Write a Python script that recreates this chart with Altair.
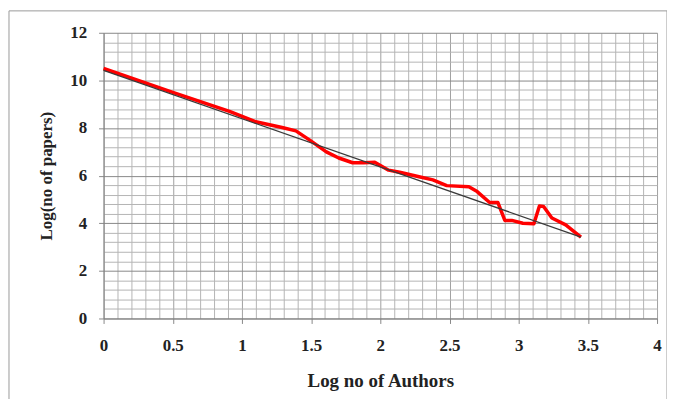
import altair as alt
import pandas as pd

# Red data series: log(no of authors) vs log(no of papers)
log_authors = [0.0, 0.5, 0.91, 1.10, 1.29, 1.39, 1.49, 1.61, 1.70, 1.80, 1.88, 1.96, 2.06,
               2.14, 2.28, 2.38, 2.48, 2.64, 2.70, 2.79, 2.85, 2.90, 2.95, 3.03, 3.11,
               3.15, 3.18, 3.24, 3.34, 3.45]
log_papers = [10.5, 9.5, 8.70, 8.26, 8.02, 7.88, 7.49, 7.00, 6.74, 6.54, 6.54, 6.56, 6.23,
              6.14, 5.95, 5.82, 5.58, 5.53, 5.33, 4.87, 4.87, 4.12, 4.12, 4.00, 3.98,
              4.72, 4.70, 4.22, 3.93, 3.42]

# Linear trend line endpoints
trend_x = [0.0, 3.45]
trend_y = [10.42, 3.42]

x_ticks = [round(i * 0.1, 1) for i in range(41)]
y_ticks = [round(i * 0.4, 1) for i in range(31)]

df = pd.DataFrame({"x": log_authors, "y": log_papers})
tdf = pd.DataFrame({"x": trend_x, "y": trend_y})

FONT = "Liberation Serif"

x_enc = alt.X("x:Q", scale=alt.Scale(domain=[0, 4], nice=False),
              axis=alt.Axis(values=x_ticks, tickCount=100, format="~g", title="Log no of Authors",
                            labelExpr="round(datum.value*10) % 5 === 0 ? datum.label : ''",
                            gridColor=alt.condition("round(datum.value*10) % 5 === 0", alt.value("#a0a0a0"), alt.value("#b4b4b4")),
                            tickColor=alt.condition("round(datum.value*10) % 5 === 0", alt.value("#888888"), alt.value("transparent")),
                            tickSize=5, labelPadding=14, titlePadding=18, titleFontSize=19,
                            labelFlush=False, labelOverlap=False))
y_enc = alt.Y("y:Q", scale=alt.Scale(domain=[0, 12], nice=False),
              axis=alt.Axis(values=y_ticks, tickCount=100, format="~g", title="Log(no of papers)",
                            labelExpr="round(datum.value*10) % 20 === 0 ? datum.label : ''",
                            gridColor=alt.condition("round(datum.value*10) % 20 === 0", alt.value("#888888"), alt.value("#b4b4b4")),
                            tickColor=alt.condition("round(datum.value*10) % 20 === 0", alt.value("#888888"), alt.value("transparent")),
                            tickSize=5, labelPadding=12, titlePadding=14, titleFontSize=17,
                            labelFlush=False, labelOverlap=False))

red = alt.Chart(df).mark_line(color="#ff0000", strokeWidth=3.5, strokeJoin="round").encode(x=x_enc, y=y_enc)
trend = alt.Chart(tdf).mark_line(color="#3a3a3a", strokeWidth=1.3).encode(x="x:Q", y="y:Q")

border = alt.Chart(pd.DataFrame({"a": [0]})).mark_rect(
    fill="transparent", stroke="#9a9a9a", strokeWidth=1, clip=False
).encode(x=alt.value(-95), x2=alt.value(566), y=alt.value(-22), y2=alt.value(374))

chart = alt.layer(red, trend, border).properties(
    width=556, height=287,
    autosize=alt.AutoSizeParams(type="none"),
    padding={"left": 96, "top": 24, "right": 10, "bottom": 80},
).configure_view(stroke="transparent").configure_axis(
    labelFont=FONT, titleFont=FONT, labelFontSize=17,
    labelFontWeight="bold", titleFontWeight="bold",
    labelColor="#222222", titleColor="#222222",
    domainColor="#808080", gridWidth=1,
)

chart.save("out.html", embed_options={"renderer": "svg", "actions": False})
